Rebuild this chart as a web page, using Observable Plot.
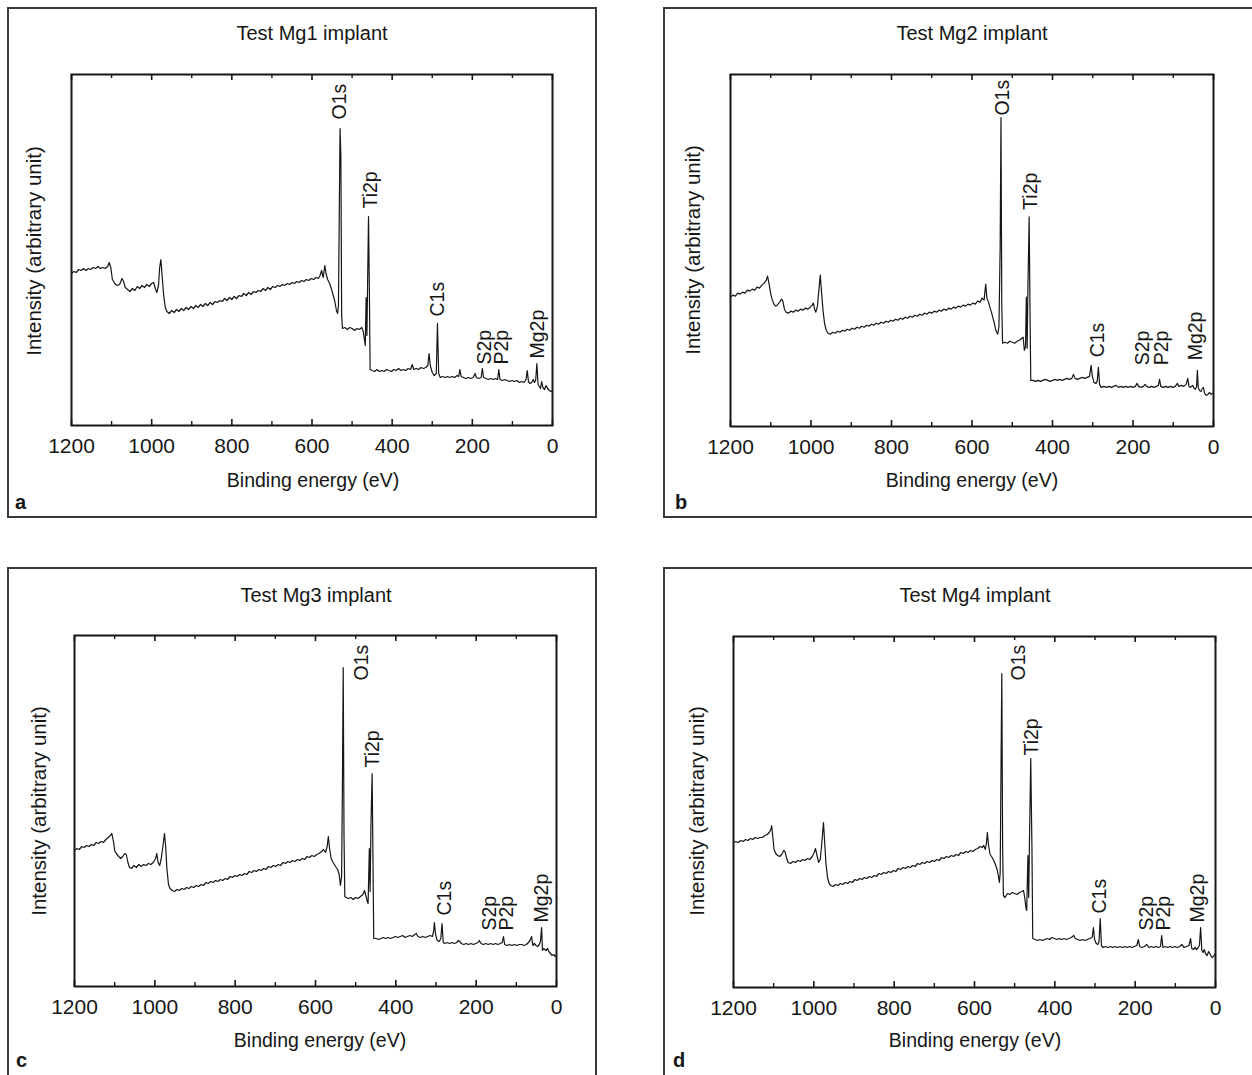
<!DOCTYPE html>
<html><head><meta charset="utf-8">
<script src="https://cdn.jsdelivr.net/npm/d3@7"></script>
<script src="https://cdn.jsdelivr.net/npm/@observablehq/plot@0.6"></script>
<style>
html,body{margin:0;padding:0;background:#fff;}
body{width:1252px;height:1075px;overflow:hidden;position:relative;font-family:"Liberation Sans",Arial,sans-serif;color:#161616;}
.box{position:absolute;border:2px solid #3a3a3a;box-sizing:border-box;}
.tt{position:absolute;transform:translate(-50%,-50%);white-space:nowrap;font-size:20px;}
.xt{position:absolute;transform:translate(-50%,-50%);white-space:nowrap;font-size:19.5px;}
.yl{position:absolute;transform:translate(-50%,-50%) rotate(-90deg);white-space:nowrap;font-size:20.5px;}
.lt{position:absolute;font-weight:bold;font-size:20px;transform:translate(0,-50%);}
.plot{position:absolute;}
</style></head><body>
<script>
// ---------------- DATA ----------------
const titles = ["Test Mg1 implant", "Test Mg2 implant", "Test Mg3 implant", "Test Mg4 implant"];
const panelLetters = ["a", "b", "c", "d"];
const xTitle = "Binding energy (eV)";
const yTitle = "Intensity (arbitrary unit)";
const majorTicks = [1200, 1000, 800, 600, 400, 200, 0];
const minorTicks = [1100, 900, 700, 500, 300, 100];
const peakNames = ["O1s", "Ti2p", "C1s", "S2p", "P2p", "Mg2p"];

// [binding energy (eV), intensity (arb. unit)]
const mg1 = [[1200,152],[1194,154],[1188,153],[1182,156],[1176,155],[1170,157],[1164,155],[1158,157],[1152,156],[1146,158],[1140,157],[1134,159],[1128,157],[1122,158],[1116,157],[1110,159],[1106,163],[1102,158],[1098,146],[1092,142],[1086,140],[1080,141],[1074,147],[1070,144],[1066,138],[1060,136],[1054,134],[1048,137],[1042,135],[1036,139],[1030,137],[1024,140],[1018,138],[1012,141],[1006,139],[1000,142],[995,143],[991,137],[987,133],[983,140],[980,158],[977,166],[974,150],[970,130],[966,118],[962,114],[956,112],[950,115],[944,113],[938,116],[932,114],[926,117],[920,115],[914,118],[908,116],[902,119],[896,117],[890,120],[884,118],[878,121],[872,119],[866,122],[860,120],[854,123],[848,121],[842,124],[836,123],[830,125],[824,124],[818,127],[812,125],[806,128],[800,126],[794,129],[788,127],[782,130],[776,129],[770,132],[764,130],[758,133],[752,131],[746,134],[740,133],[734,135],[728,134],[722,137],[716,135],[710,138],[704,136],[698,139],[692,138],[686,140],[680,139],[674,141],[668,140],[662,142],[656,141],[650,143],[644,142],[638,144],[632,143],[626,145],[620,144],[614,146],[608,145],[602,147],[596,146],[590,148],[584,147],[580,150],[576,155],[572,148],[568,160],[565,152],[561,146],[556,142],[551,136],[547,130],[543,124],[539,115],[536,112],[534,120],[532,210],[530,297],[528,270],[526,110],[524,97],[518,98],[512,96],[506,98],[500,97],[494,95],[488,97],[482,96],[476,98],[472,94],[469,85],[467,80],[465,128],[463,90],[461,150],[459,209],[457,140],[455,56],[450,55],[444,54],[438,56],[432,54],[426,55],[420,54],[414,56],[408,55],[402,54],[396,56],[390,55],[384,57],[378,55],[372,56],[366,55],[360,57],[354,56],[350,61],[346,56],[340,57],[334,56],[328,58],[322,57],[316,58],[311,60],[308,72],[305,60],[300,53],[295,50],[290,52],[287,102],[284,52],[280,48],[274,49],[268,48],[262,49],[256,48],[250,49],[244,48],[238,50],[234,49],[231,56],[228,49],[222,48],[216,47],[210,48],[204,47],[198,48],[193,52],[190,48],[184,47],[178,48],[175,57],[172,48],[166,47],[160,46],[154,47],[148,46],[142,47],[137,46],[134,56],[131,46],[125,45],[119,46],[113,45],[107,44],[101,45],[95,44],[89,45],[83,43],[77,44],[71,43],[66,46],[63,55],[60,44],[56,42],[52,43],[48,46],[45,43],[42,45],[39,62],[36,41],[33,39],[30,37],[27,44],[24,38],[20,36],[16,40],[12,37],[8,35],[4,34],[0,35]];

const mg2 = [[1200,129],[1194,131],[1188,130],[1182,133],[1176,132],[1170,134],[1164,133],[1158,136],[1152,135],[1146,137],[1140,136],[1134,139],[1128,138],[1122,141],[1116,143],[1111,146],[1108,150],[1104,142],[1100,132],[1096,126],[1092,122],[1088,120],[1084,121],[1078,124],[1073,127],[1070,125],[1066,117],[1062,114],[1056,113],[1050,115],[1044,114],[1038,116],[1032,115],[1026,117],[1020,116],[1014,118],[1008,117],[1002,119],[997,121],[994,123],[991,117],[988,114],[984,120],[980,138],[977,151],[974,135],[970,115],[966,102],[962,96],[958,93],[952,92],[946,94],[940,93],[934,95],[928,94],[922,96],[916,95],[910,97],[904,96],[898,98],[892,97],[886,99],[880,98],[874,100],[868,99],[862,101],[856,100],[850,102],[844,101],[838,103],[832,102],[826,104],[820,103],[814,105],[808,104],[802,106],[796,105],[790,107],[784,106],[778,108],[772,107],[766,109],[760,108],[754,110],[748,109],[742,111],[736,110],[730,112],[724,111],[718,113],[712,112],[706,114],[700,113],[694,115],[688,114],[682,116],[676,115],[670,117],[664,116],[658,118],[652,117],[646,119],[640,118],[634,120],[628,119],[622,121],[616,120],[610,122],[604,121],[598,123],[592,122],[586,125],[580,124],[575,128],[570,126],[566,142],[563,128],[559,124],[555,118],[551,113],[548,108],[545,104],[542,98],[539,94],[536,92],[533,100],[530,180],[528,308],[526,120],[524,83],[518,84],[512,83],[506,85],[500,84],[494,83],[488,85],[482,86],[476,88],[473,89],[470,76],[467,80],[465,129],[463,78],[461,140],[458,209],[456,120],[454,46],[448,46],[442,45],[436,46],[430,45],[424,46],[418,47],[412,46],[406,45],[400,46],[394,47],[388,46],[382,47],[376,46],[370,47],[364,48],[358,47],[352,48],[348,52],[344,48],[338,47],[332,48],[326,49],[320,48],[314,49],[308,50],[304,61],[301,50],[297,44],[292,43],[289,45],[286,59],[283,42],[279,39],[272,40],[266,39],[260,40],[254,39],[248,40],[242,41],[236,39],[230,40],[224,39],[218,40],[212,39],[206,40],[200,39],[194,40],[190,43],[186,40],[180,39],[174,40],[170,42],[166,40],[160,39],[154,40],[148,39],[142,40],[137,41],[134,47],[131,40],[125,39],[119,40],[113,39],[107,40],[101,39],[95,40],[90,43],[86,40],[80,41],[74,40],[68,42],[64,48],[61,40],[57,39],[52,41],[48,38],[45,37],[42,40],[40,56],[38,39],[35,36],[31,35],[28,38],[25,39],[22,33],[18,31],[14,32],[10,34],[6,32],[3,33],[0,33]];

const mg3 = [[1200,136],[1194,138],[1188,137],[1182,140],[1176,139],[1170,141],[1164,140],[1158,142],[1152,141],[1146,144],[1140,143],[1134,145],[1128,144],[1122,147],[1116,149],[1111,151],[1107,153],[1103,145],[1100,136],[1096,133],[1090,130],[1085,128],[1080,130],[1075,133],[1071,132],[1067,124],[1063,119],[1058,118],[1052,121],[1046,119],[1040,122],[1034,120],[1028,122],[1022,121],[1016,123],[1010,122],[1004,124],[998,128],[995,133],[992,124],[988,121],[984,128],[980,140],[976,153],[973,140],[970,118],[966,102],[962,98],[957,96],[951,95],[945,97],[939,96],[933,98],[927,97],[921,99],[915,98],[909,100],[903,99],[897,101],[891,100],[885,102],[879,101],[873,104],[867,103],[861,105],[855,104],[849,106],[843,105],[837,107],[831,106],[825,108],[819,107],[813,110],[807,109],[801,111],[795,110],[789,112],[783,111],[777,113],[771,112],[765,115],[759,114],[753,116],[747,115],[741,117],[735,116],[729,118],[723,117],[717,120],[711,119],[705,121],[699,120],[693,122],[687,121],[681,124],[675,123],[669,125],[663,124],[657,126],[651,125],[645,127],[639,126],[633,128],[627,127],[621,130],[615,129],[609,131],[603,130],[597,132],[591,133],[585,135],[580,137],[575,134],[571,140],[568,150],[565,138],[561,128],[556,124],[550,120],[545,117],[541,112],[538,101],[535,110],[533,200],[531,319],[529,150],[527,90],[524,89],[518,88],[512,89],[506,87],[500,89],[494,88],[488,90],[482,92],[478,96],[474,90],[471,85],[469,83],[466,138],[464,95],[462,160],[459,213],[457,130],[455,48],[449,48],[443,47],[437,48],[431,49],[425,48],[419,49],[413,48],[407,49],[401,50],[395,49],[389,50],[383,51],[377,49],[371,50],[365,51],[359,50],[353,52],[349,53],[345,50],[339,49],[333,50],[327,49],[321,50],[315,51],[309,50],[306,55],[304,64],[301,52],[297,46],[292,45],[288,48],[285,63],[282,44],[278,43],[272,44],[266,43],[260,44],[254,43],[248,44],[244,46],[241,45],[237,43],[231,42],[225,43],[219,42],[213,43],[207,42],[201,43],[195,44],[192,46],[188,43],[182,42],[176,43],[170,42],[164,43],[158,42],[152,43],[146,42],[140,43],[135,44],[132,50],[129,42],[123,41],[117,42],[111,41],[105,42],[99,41],[93,42],[87,42],[81,41],[75,42],[70,44],[66,46],[62,50],[59,41],[55,43],[51,41],[47,40],[43,42],[40,45],[37,59],[35,36],[32,38],[29,37],[26,36],[22,38],[19,35],[15,33],[11,31],[7,32],[3,30],[0,31]];

const mg4 = [[1200,145],[1194,146],[1188,145],[1182,147],[1176,146],[1170,148],[1164,147],[1158,149],[1152,148],[1146,150],[1140,149],[1134,150],[1128,150],[1122,152],[1116,153],[1111,155],[1107,158],[1105,162],[1102,150],[1099,138],[1095,134],[1090,132],[1085,131],[1080,133],[1075,137],[1072,136],[1068,130],[1064,125],[1058,124],[1052,126],[1046,125],[1040,127],[1034,126],[1028,128],[1022,127],[1016,129],[1010,128],[1004,131],[999,135],[996,139],[992,132],[988,125],[984,128],[980,145],[976,165],[973,145],[970,125],[966,110],[962,104],[958,102],[952,101],[946,103],[940,102],[934,104],[928,103],[922,105],[916,104],[910,106],[904,105],[898,108],[892,107],[886,109],[880,108],[874,110],[868,109],[862,111],[856,110],[850,112],[844,111],[838,114],[832,113],[826,115],[820,114],[814,116],[808,115],[802,117],[796,116],[790,119],[784,118],[778,120],[772,119],[766,121],[760,120],[754,122],[748,121],[742,124],[736,123],[730,125],[724,124],[718,126],[712,125],[706,127],[700,126],[694,128],[688,127],[682,130],[676,129],[670,131],[664,130],[658,132],[652,131],[646,133],[640,132],[634,135],[628,134],[622,136],[616,135],[610,137],[604,136],[598,138],[592,139],[586,141],[581,140],[577,142],[573,138],[570,145],[568,155],[565,142],[561,133],[556,130],[551,126],[547,122],[543,117],[540,110],[538,105],[536,115],[534,220],[532,314],[530,140],[528,92],[524,90],[518,94],[512,93],[506,95],[500,94],[494,93],[488,95],[482,96],[478,97],[475,90],[472,80],[470,77],[467,132],[465,90],[463,150],[460,229],[457,140],[455,49],[449,48],[443,47],[437,48],[431,47],[425,48],[419,49],[413,48],[407,50],[401,49],[395,48],[389,49],[383,48],[377,49],[371,48],[365,49],[359,50],[353,52],[349,49],[343,48],[337,47],[331,48],[325,47],[319,48],[313,49],[307,50],[304,60],[301,48],[297,44],[293,43],[290,46],[287,69],[284,42],[280,40],[274,41],[268,40],[262,41],[256,40],[250,41],[244,40],[238,41],[232,40],[226,41],[220,40],[214,41],[208,40],[202,41],[196,42],[192,48],[189,41],[183,40],[177,41],[171,43],[166,40],[160,41],[154,40],[148,41],[142,40],[137,41],[134,52],[131,40],[125,41],[119,40],[113,41],[107,40],[101,41],[95,40],[89,41],[84,43],[78,40],[72,41],[66,42],[62,49],[59,39],[55,38],[51,40],[47,38],[43,40],[40,42],[37,60],[34,37],[31,35],[28,38],[25,34],[21,32],[17,36],[13,33],[9,30],[5,31],[2,33],[0,32]];

// peak label anchors (energy, intensity) in peakNames order
const mg1LabelE = [531, 453, 287, 170, 127, 37];
const mg1LabelI = [306, 217, 109, 61, 61, 67];
const mg2LabelE = [524, 455, 288, 176, 129, 44];
const mg2LabelI = [310, 216, 69, 61, 61, 66];
const mg3LabelE = [486, 458, 277, 167, 125, 36];
const mg3LabelI = [306, 219, 71, 56, 56, 64];
const mg4LabelE = [491, 458, 287, 172, 129, 45];
const mg4LabelI = [307, 232, 74, 57, 57, 65];

// ---------------- LAYOUT ----------------
const spectra = [mg1, mg2, mg3, mg4];
const labelE = [mg1LabelE, mg2LabelE, mg3LabelE, mg4LabelE];
const labelI = [mg1LabelI, mg2LabelI, mg3LabelI, mg4LabelI];
const layout = [
  {box:[7,7,590,511],    frame:[71,74,481,351],  title:[312,33],  yl:[34,251],  xl:[313,480],  letter:[15,502]},
  {box:[663,7,640,511],  frame:[730,74,483,352], title:[972,33],  yl:[693,250], xl:[972,480],  letter:[675,502]},
  {box:[7,567,590,560],  frame:[74,635,482,351], title:[316,595], yl:[39,811],  xl:[320,1040], letter:[16,1060]},
  {box:[663,567,640,560],frame:[733,636,482,351],title:[975,595], yl:[697,811], xl:[975,1040], letter:[673,1060]}
];
const FONT = '"Liberation Sans", Arial, sans-serif';
const INK = "#161616";

function addDiv(cls, text, x, y) {
  const d = document.createElement("div");
  d.className = cls;
  d.textContent = text;
  d.style.left = x + "px";
  d.style.top = y + "px";
  document.body.appendChild(d);
  return d;
}

layout.forEach((L, i) => {
  const box = document.createElement("div");
  box.className = "box";
  Object.assign(box.style, {left: L.box[0]+"px", top: L.box[1]+"px", width: L.box[2]+"px", height: L.box[3]+"px"});
  document.body.appendChild(box);

  addDiv("tt", titles[i], L.title[0], L.title[1]);
  addDiv("yl", yTitle, L.yl[0], L.yl[1]);
  addDiv("xt", xTitle, L.xl[0], L.xl[1]);
  addDiv("lt", panelLetters[i], L.letter[0], L.letter[1]);

  const [fl, ft, fw, fh] = L.frame;
  const m = {t: 12, r: 16, b: 44, l: 16};
  const labels = peakNames.map((name, k) => ({name, e: labelE[i][k], v: labelI[i][k]}));
  const svg = Plot.plot({
    width: fw + m.l + m.r,
    height: fh + m.t + m.b,
    marginTop: m.t, marginRight: m.r, marginBottom: m.b, marginLeft: m.l,
    style: {fontFamily: FONT, fontSize: "21px", color: INK, background: "transparent", overflow: "visible"},
    x: {domain: [1200, 0], axis: null},
    y: {domain: [0, 351], axis: null},
    marks: [
      Plot.axisX({ticks: majorTicks, tickSize: 0, tickPadding: 13, tickFormat: "d", label: null, fontSize: 21, fill: INK}),
      Plot.tickX(majorTicks, {x: d => d, insetTop: fh - 6, stroke: INK, strokeWidth: 1.6}),
      Plot.tickX(majorTicks, {x: d => d, insetBottom: fh - 6, stroke: INK, strokeWidth: 1.6}),
      Plot.tickX(minorTicks, {x: d => d, insetTop: fh - 4, stroke: INK, strokeWidth: 1.4}),
      Plot.tickX(minorTicks, {x: d => d, insetBottom: fh - 4, stroke: INK, strokeWidth: 1.4}),
      Plot.line(spectra[i], {x: d => d[0], y: d => d[1], stroke: INK, strokeWidth: 1.2}),
      Plot.text(labels, {x: "e", y: "v", text: "name", rotate: -90, textAnchor: "start", lineAnchor: "middle", fontSize: 19.5, fill: INK}),
      Plot.frame({stroke: INK, strokeWidth: 2})
    ]
  });
  svg.classList.add("plot");
  svg.style.left = (fl - m.l) + "px";
  svg.style.top = (ft - m.t) + "px";
  document.body.appendChild(svg);
});
</script>
</body></html>
